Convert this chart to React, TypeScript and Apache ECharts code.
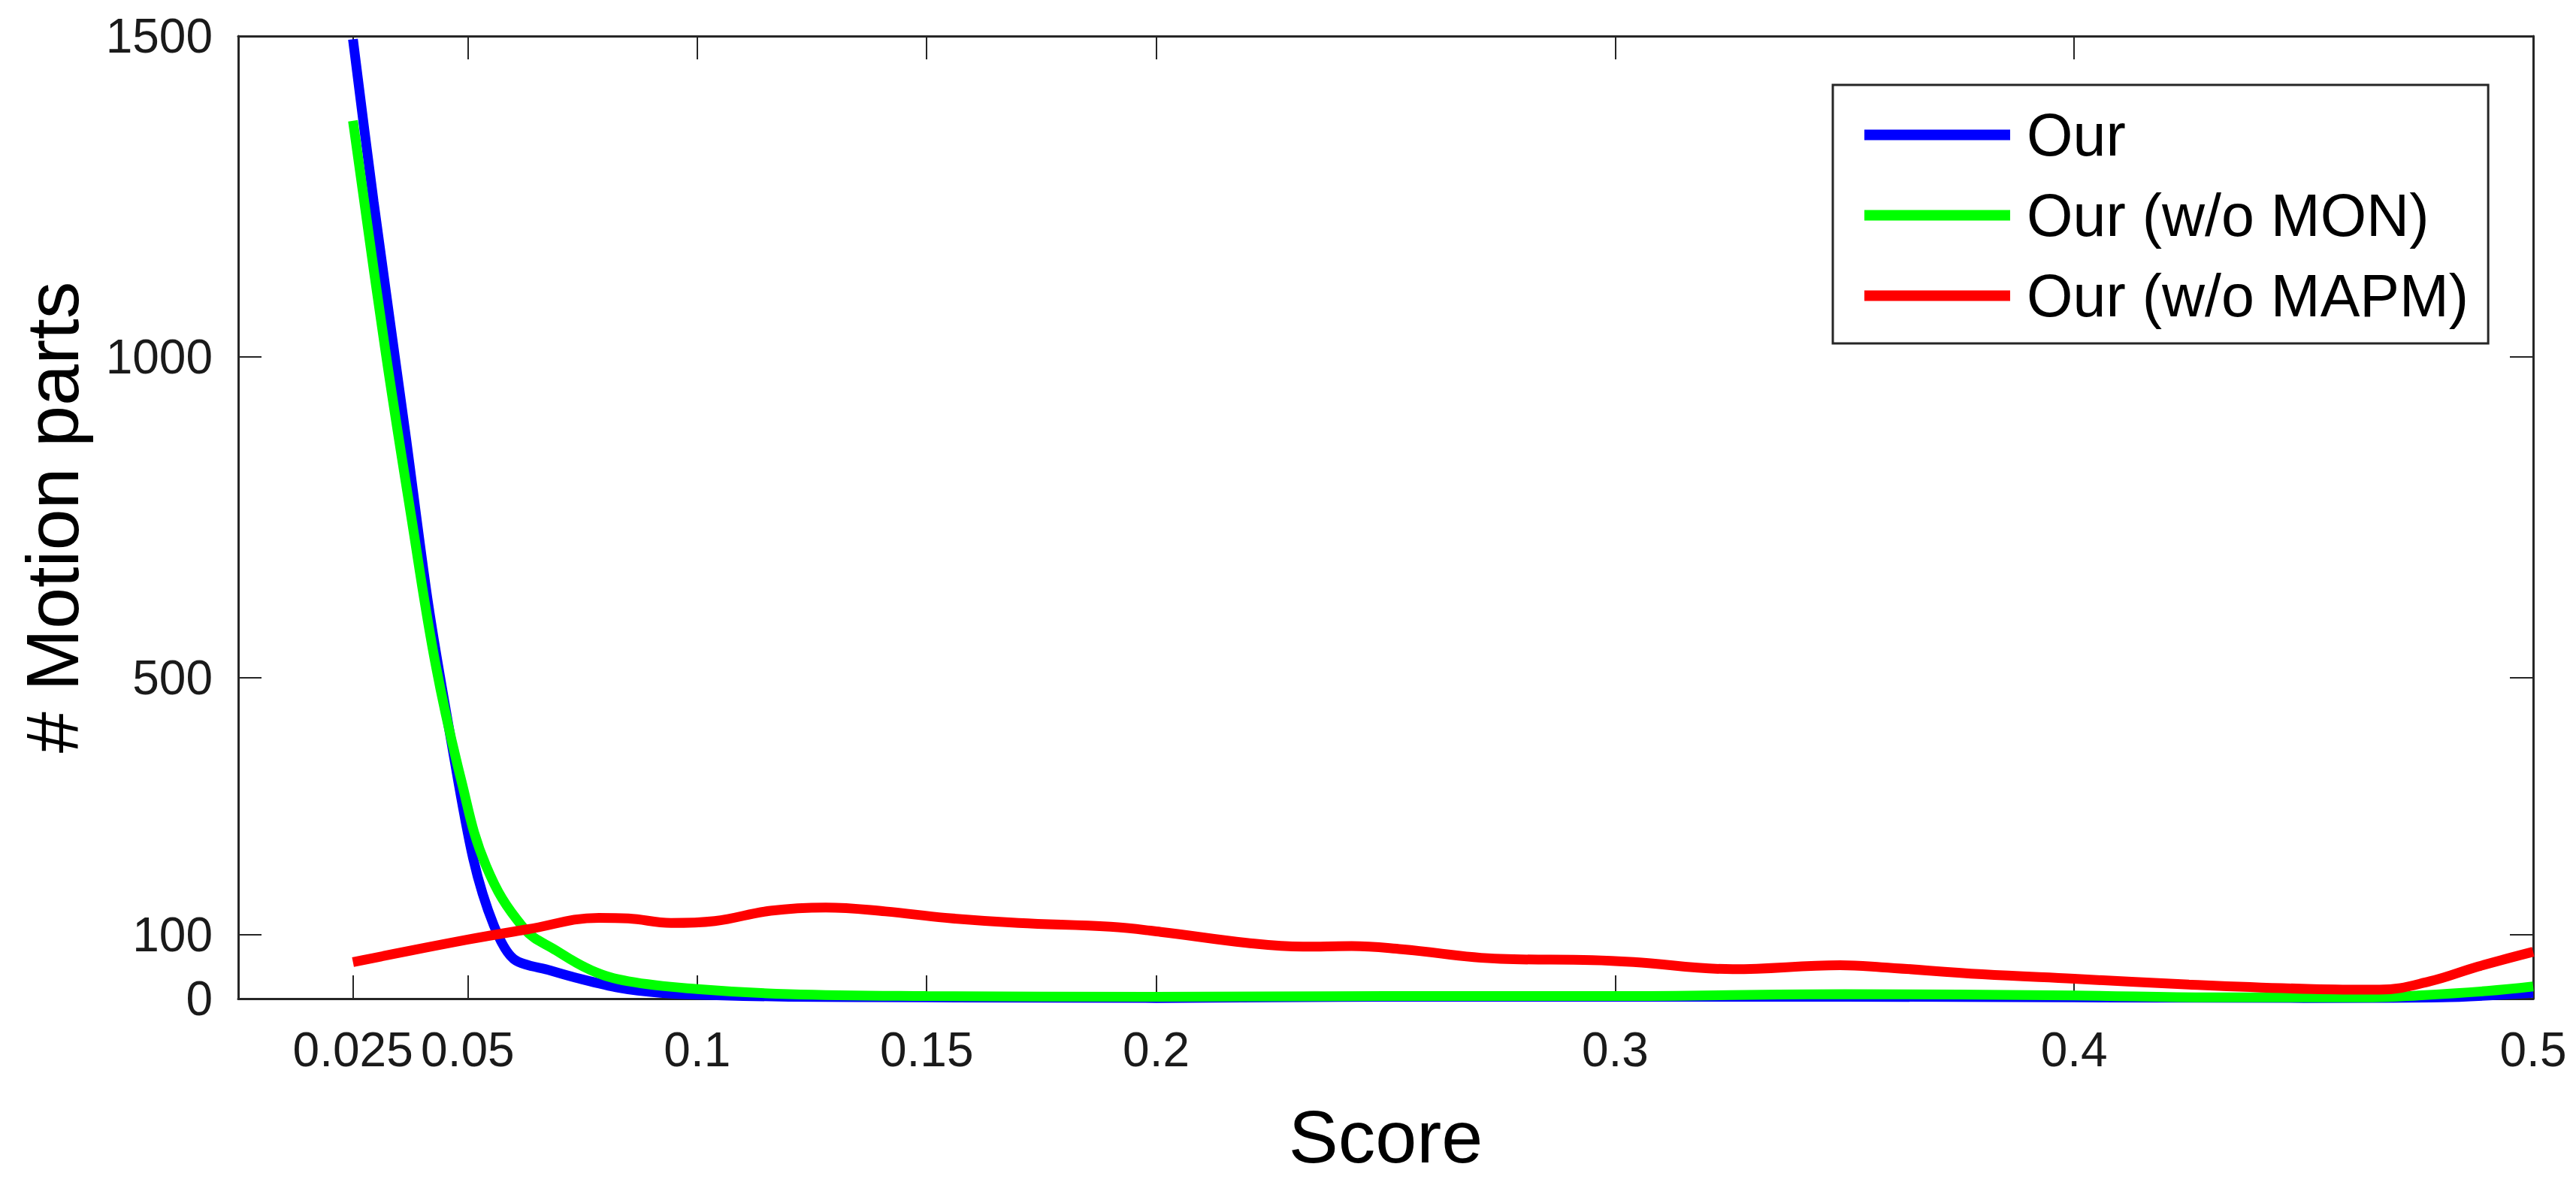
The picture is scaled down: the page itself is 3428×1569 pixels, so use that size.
import React, { useEffect, useRef } from "react";
import * as echarts from "echarts";

// ---- data ----
const xTickValues = [0.025, 0.05, 0.1, 0.15, 0.2, 0.3, 0.4, 0.5];
const yTickValues = [0, 100, 500, 1000, 1500];

const ourScore = [0.025, 0.0295, 0.0365, 0.0414, 0.0463, 0.0512, 0.0557, 0.06, 0.068, 0.075, 0.083, 0.092, 0.1, 0.12, 0.15, 0.2, 0.25, 0.3, 0.35, 0.4, 0.45, 0.48, 0.5];
const ourCount = [1495, 1242, 877, 615, 406, 218, 114, 62, 44, 30, 17, 9, 6, 3, 2, 1, 3, 3, 3, 2, 1, 2, 9];

const monScore = [0.025, 0.032, 0.0377, 0.043, 0.0485, 0.054, 0.0622, 0.0693, 0.077, 0.085, 0.1, 0.12, 0.15, 0.2, 0.25, 0.3, 0.35, 0.4, 0.43, 0.465, 0.475, 0.49, 0.5];
const monCount = [1368, 1013, 751, 521, 343, 207, 110, 75, 44, 27, 15, 7, 4, 3, 4, 4, 7, 5, 2, 2, 5, 12, 19];

const mapmScore = [0.025, 0.05, 0.063, 0.0786, 0.085, 0.0943, 0.1038, 0.116, 0.128, 0.141, 0.154, 0.17, 0.19, 0.201, 0.2197, 0.232, 0.2426, 0.2535, 0.275, 0.295, 0.304, 0.3256, 0.349, 0.358, 0.38, 0.4, 0.425, 0.452, 0.4665, 0.4775, 0.488, 0.5];
const mapmCount = [57, 92, 108, 126, 125, 118, 121, 137, 142, 136, 126, 118, 112, 104, 87, 81, 82, 77, 62, 60, 57, 46, 52, 49, 38, 31, 22, 15, 14, 27, 50, 73];

const seriesNames = ["Our", "Our (w/o MON)", "Our (w/o MAPM)"];
const seriesColors = ["#0000ff", "#00ff00", "#ff0000"];

const FONT = "'Liberation Sans', Arial, Helvetica, sans-serif";
const AXIS_COLOR = "#262626";

function pairs(xs: number[], ys: number[]) {
  return xs.map((x, i) => [x, ys[i]]);
}

export default function App() {
  const ref = useRef<HTMLDivElement>(null);

  useEffect(() => {
    const chart = echarts.init(ref.current!, null, { renderer: "svg" });

    const tickStyle = {
      show: true,
      inside: true,
      length: 31,
      lineStyle: { color: AXIS_COLOR, width: 2 },
    };
    const lineStyle = { show: true, onZero: false, lineStyle: { color: AXIS_COLOR, width: 3 } };

    const option: any = {
      animation: false,
      backgroundColor: "#ffffff",
      grid: { left: 317, right: 57, top: 48, bottom: 240, containLabel: false },
      legend: {
        show: true,
        orient: "vertical",
        left: 2439,
        top: 113,
        padding: [21, 26, 18, 42],
        itemGap: 16,
        itemWidth: 194,
        itemHeight: 14,
        icon: "rect",
        selectedMode: false,
        backgroundColor: "#ffffff",
        borderColor: AXIS_COLOR,
        borderWidth: 3,
        borderRadius: 0,
        textStyle: { fontFamily: FONT, fontSize: 79, color: "#000000", lineHeight: 91, padding: [0, 0, 0, 17] },
        data: seriesNames,
      },
      xAxis: [
        {
          type: "value",
          position: "bottom",
          min: 0,
          max: 0.5,
          name: "Score",
          nameLocation: "middle",
          nameGap: 134,
          nameTextStyle: { fontFamily: FONT, fontSize: 99, color: "#000000" },
          axisLine: lineStyle,
          axisTick: { ...tickStyle, customValues: xTickValues },
          axisLabel: {
            customValues: xTickValues,
            margin: 36,
            fontFamily: FONT,
            fontSize: 64,
            color: "#1a1a1a",
            formatter: (v: number) => String(v),
          },
          splitLine: { show: false },
        },
        {
          type: "value",
          position: "top",
          min: 0,
          max: 0.5,
          axisLine: lineStyle,
          axisTick: { ...tickStyle, customValues: xTickValues },
          axisLabel: { show: false },
          splitLine: { show: false },
        },
      ],
      yAxis: [
        {
          type: "value",
          position: "left",
          min: 0,
          max: 1500,
          name: "# Motion parts",
          nameLocation: "middle",
          nameGap: 198,
          nameTextStyle: { fontFamily: FONT, fontSize: 99, color: "#000000" },
          axisLine: lineStyle,
          axisTick: { ...tickStyle, customValues: yTickValues },
          axisLabel: {
            customValues: yTickValues,
            margin: 34,
            fontFamily: FONT,
            fontSize: 64,
            color: "#1a1a1a",
            formatter: (v: number) => String(v),
          },
          splitLine: { show: false },
        },
        {
          type: "value",
          position: "right",
          min: 0,
          max: 1500,
          axisLine: lineStyle,
          axisTick: { ...tickStyle, customValues: yTickValues },
          axisLabel: { show: false },
          splitLine: { show: false },
        },
      ],
      series: [
        {
          name: seriesNames[0],
          type: "line",
          data: pairs(ourScore, ourCount),
          smooth: 0.3,
          showSymbol: false,
          symbol: "none",
          clip: false,
          color: seriesColors[0],
          lineStyle: { color: seriesColors[0], width: 13 },
          z: 2,
        },
        {
          name: seriesNames[1],
          type: "line",
          data: pairs(monScore, monCount),
          smooth: 0.4,
          showSymbol: false,
          symbol: "none",
          clip: false,
          color: seriesColors[1],
          lineStyle: { color: seriesColors[1], width: 13 },
          z: 3,
        },
        {
          name: seriesNames[2],
          type: "line",
          data: pairs(mapmScore, mapmCount),
          smooth: 0.4,
          showSymbol: false,
          symbol: "none",
          clip: false,
          color: seriesColors[2],
          lineStyle: { color: seriesColors[2], width: 13 },
          z: 4,
        },
      ],
    };

    chart.setOption(option);
    return () => chart.dispose();
  }, []);

  return (
    <div
      ref={ref}
      style={{ position: "fixed", left: 0, top: 0, width: 3428, height: 1569, background: "#ffffff" }}
    />
  );
}
